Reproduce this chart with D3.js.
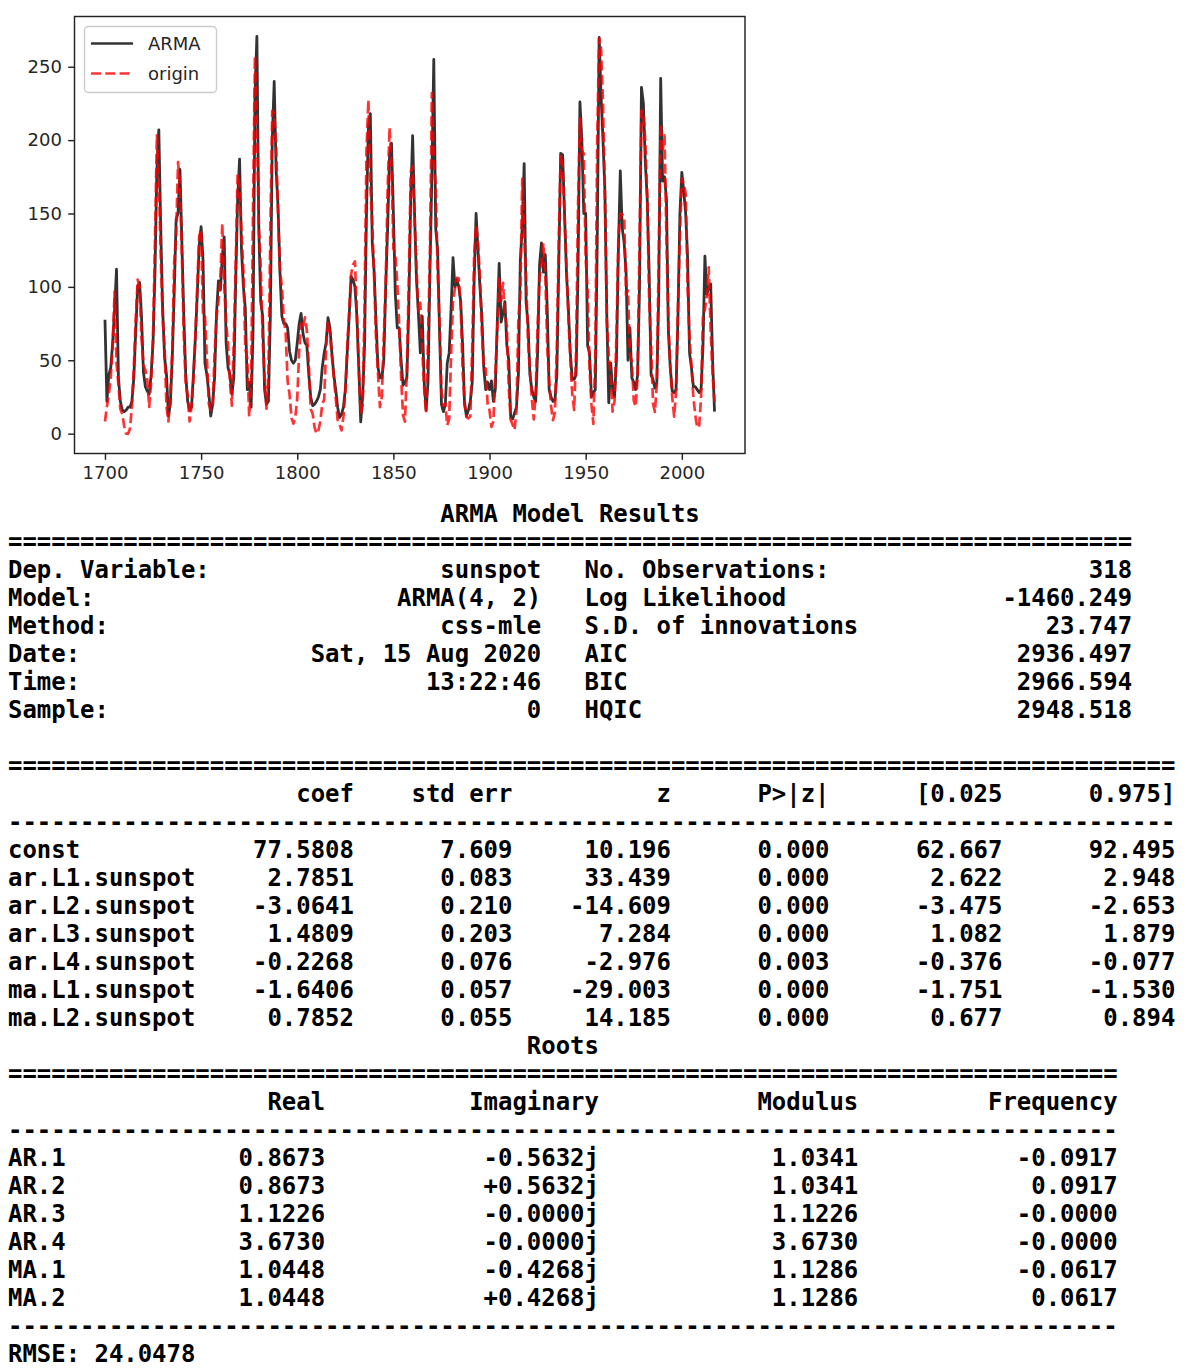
<!DOCTYPE html>
<html>
<head>
<meta charset="utf-8">
<script src="https://cdn.jsdelivr.net/npm/d3@7"></script>
<style>
  body { margin: 0; background: #fff; }
  .tick-label { font-family: "DejaVu Sans", sans-serif; font-size: 18px; fill: #262626; }
  .mono { font-family: "DejaVu Sans Mono", monospace; font-size: 23.95px; font-weight: bold; fill: #000; white-space: pre; }
</style>
</head>
<body>
<div id="chart"></div>
<script>
// yearly sunspot numbers, 1700 .. 2017
const firstYear = 1700;
const origin = [
  8.3, 18.3, 26.7, 38.3, 60.0, 96.7, 48.3, 33.3, 16.7, 13.3,
  5.0, 0.0, 0.0, 3.3, 18.3, 45.0, 78.3, 105.0, 100.0, 65.0,
  46.7, 43.3, 36.7, 18.3, 35.0, 66.7, 130.0, 203.3, 171.7, 121.7,
  78.3, 58.3, 18.3, 8.3, 26.7, 56.7, 116.7, 135.0, 185.0, 168.3,
  121.7, 66.7, 33.3, 26.7, 8.3, 18.3, 36.7, 66.7, 100.0, 134.8,
  139.0, 79.5, 79.7, 51.2, 20.3, 16.0, 17.0, 54.0, 79.3, 90.0,
  104.8, 143.2, 102.0, 75.2, 60.7, 34.8, 19.0, 63.0, 116.3, 176.8,
  168.0, 136.0, 110.8, 58.0, 51.0, 11.7, 33.0, 154.2, 257.3, 209.8,
  141.3, 113.5, 64.2, 38.0, 17.0, 40.2, 138.2, 220.0, 218.2, 196.8,
  149.8, 111.0, 100.0, 78.2, 68.3, 35.5, 26.7, 10.7, 6.8, 11.3,
  24.2, 56.7, 75.0, 71.8, 79.2, 70.3, 46.8, 16.8, 13.5, 4.2,
  0.0, 2.3, 8.3, 20.3, 23.2, 59.0, 76.3, 68.3, 52.9, 38.5,
  24.2, 9.2, 6.3, 2.2, 11.4, 28.2, 59.9, 83.0, 108.5, 115.2,
  117.4, 80.8, 44.3, 13.4, 19.5, 85.8, 192.7, 227.3, 168.7, 143.0,
  105.5, 63.3, 40.3, 18.1, 25.1, 65.8, 102.7, 166.3, 208.3, 182.5,
  126.3, 122.0, 102.7, 74.1, 39.0, 12.7, 8.2, 43.4, 104.4, 178.3,
  182.2, 146.6, 112.1, 83.5, 89.2, 57.8, 30.7, 13.9, 62.8, 123.6,
  232.0, 185.3, 169.2, 110.1, 74.5, 28.3, 18.9, 20.7, 5.7, 10.0,
  53.7, 90.5, 99.0, 106.1, 105.8, 86.3, 42.4, 21.8, 11.2, 10.4,
  11.8, 59.5, 121.7, 142.0, 130.0, 106.6, 69.4, 43.8, 44.4, 20.2,
  15.7, 4.6, 8.5, 40.8, 70.1, 105.5, 90.1, 102.8, 80.9, 73.2,
  30.9, 9.5, 6.0, 2.4, 16.1, 79.0, 95.0, 173.6, 134.6, 105.7,
  62.7, 43.5, 23.7, 9.7, 27.9, 74.0, 106.5, 114.7, 129.7, 108.2,
  59.4, 35.1, 18.6, 9.2, 14.6, 60.2, 132.8, 190.6, 182.6, 148.0,
  113.0, 79.2, 50.8, 27.1, 16.1, 55.3, 154.3, 214.7, 193.0, 190.7,
  118.9, 98.3, 45.0, 20.1, 6.6, 54.2, 200.7, 269.3, 261.7, 225.1,
  159.0, 76.4, 53.4, 39.9, 15.0, 22.0, 66.8, 132.9, 150.0, 149.4,
  148.0, 94.4, 97.6, 54.1, 49.2, 22.5, 18.4, 39.3, 131.0, 220.1,
  218.9, 198.9, 162.4, 91.0, 60.5, 20.6, 14.8, 33.9, 123.0, 211.1,
  191.8, 203.3, 133.0, 76.1, 44.9, 25.1, 11.6, 28.9, 88.3, 136.3,
  173.9, 170.4, 163.6, 99.3, 65.3, 45.8, 24.7, 12.6, 4.2, 4.8,
  24.9, 80.8, 84.5, 94.0, 113.3, 69.8, 39.8, 21.7
];
// in-sample ARMA(4,2) predictions
const arma = [
  77.6, 22, 40, 45, 62, 85, 112, 38, 22, 16,
  15, 16, 18, 18, 22, 38, 70, 100, 103, 80,
  42, 32, 29, 27, 40, 62, 110, 180, 207, 140,
  85, 52, 40, 12, 20, 52, 95, 146, 150, 180,
  130, 80, 40, 22, 16, 18, 40, 65, 95, 128,
  141, 118, 48, 40, 28, 12, 20, 38, 82, 104,
  98, 120, 134, 62, 45, 40, 27, 38, 105, 160,
  187, 125, 100, 85, 30, 35, 18, 70, 230, 270.7,
  140, 90, 80, 30, 20, 22, 80, 200, 240, 180,
  155, 110, 80, 75, 75, 72, 56, 50, 48, 50,
  62, 75, 82, 68, 62, 60, 40, 25, 19, 20,
  22, 25, 30, 45, 55, 62, 79, 72, 55, 40,
  30, 18, 11, 13, 18, 30, 55, 80, 107, 105,
  100, 80, 45, 8, 25, 60, 150, 210, 218, 130,
  110, 75, 45, 38, 38, 50, 100, 140, 190, 198,
  150, 95, 72, 72, 50, 33, 35, 38, 85, 160,
  203, 150, 105, 82, 55, 80, 35, 16, 35, 110,
  175, 255, 140, 125, 70, 20, 15, 20, 48, 55,
  85, 120, 100, 105, 100, 90, 60, 20, 12, 16,
  22, 35, 105, 150, 125, 100, 80, 45, 30, 35,
  30, 36, 22, 30, 75, 116, 76, 82, 90, 60,
  50, 11, 10, 14, 18, 40, 118, 140, 184, 90,
  75, 40, 30, 25, 22, 55, 115, 130, 110, 122,
  85, 30, 25, 22, 23, 40, 115, 191, 190, 150,
  110, 85, 55, 37, 37, 40, 110, 226, 200, 150,
  150, 60, 55, 25, 28, 30, 130, 270, 230, 200,
  165, 80, 21, 48, 30, 25, 50, 125, 179, 140,
  130, 110, 50, 72, 38, 35, 30, 40, 100, 236,
  225, 185, 160, 110, 40, 37, 31, 35, 95, 242,
  172, 175, 160, 70, 45, 29, 28, 30, 80, 150,
  178, 165, 150, 120, 55, 45, 32, 32, 30, 28,
  30, 60, 121, 95, 100, 102, 50, 15
];
const xTicks = [1700, 1750, 1800, 1850, 1900, 1950, 2000];
const yTicks = [0, 50, 100, 150, 200, 250];
const legendNames = ["ARMA", "origin"];

// summary text
const modelTitle = "ARMA Model Results";
const topRows = [
  ["Dep. Variable:", "sunspot", "No. Observations:", "318"],
  ["Model:", "ARMA(4, 2)", "Log Likelihood", "-1460.249"],
  ["Method:", "css-mle", "S.D. of innovations", "23.747"],
  ["Date:", "Sat, 15 Aug 2020", "AIC", "2936.497"],
  ["Time:", "13:22:46", "BIC", "2966.594"],
  ["Sample:", "0", "HQIC", "2948.518"]
];
const paramHeader = ["", "coef", "std err", "z", "P>|z|", "[0.025", "0.975]"];
const paramRows = [
  ["const", "77.5808", "7.609", "10.196", "0.000", "62.667", "92.495"],
  ["ar.L1.sunspot", "2.7851", "0.083", "33.439", "0.000", "2.622", "2.948"],
  ["ar.L2.sunspot", "-3.0641", "0.210", "-14.609", "0.000", "-3.475", "-2.653"],
  ["ar.L3.sunspot", "1.4809", "0.203", "7.284", "0.000", "1.082", "1.879"],
  ["ar.L4.sunspot", "-0.2268", "0.076", "-2.976", "0.003", "-0.376", "-0.077"],
  ["ma.L1.sunspot", "-1.6406", "0.057", "-29.003", "0.000", "-1.751", "-1.530"],
  ["ma.L2.sunspot", "0.7852", "0.055", "14.185", "0.000", "0.677", "0.894"]
];
const rootsTitle = "Roots";
const rootHeader = ["", "Real", "Imaginary", "Modulus", "Frequency"];
const rootRows = [
  ["AR.1", "0.8673", "-0.5632j", "1.0341", "-0.0917"],
  ["AR.2", "0.8673", "+0.5632j", "1.0341", "0.0917"],
  ["AR.3", "1.1226", "-0.0000j", "1.1226", "-0.0000"],
  ["AR.4", "3.6730", "-0.0000j", "3.6730", "-0.0000"],
  ["MA.1", "1.0448", "-0.4268j", "1.1286", "-0.0617"],
  ["MA.2", "1.0448", "+0.4268j", "1.1286", "0.0617"]
];
const rmse = "24.0478";

const W = 1198, H = 1370;
const box = { left: 74.5, right: 745, top: 16.5, bottom: 453.5 };

const svg = d3.select("#chart").append("svg")
  .attr("width", W)
  .attr("height", H)
  .style("display", "block");

svg.append("rect").attr("width", W).attr("height", H).attr("fill", "#fff");

const data = origin.map((v, i) => ({ year: firstYear + i, origin: v, arma: arma[i] }));

// matplotlib style 5% margins
const xExt = d3.extent(data, d => d.year);
const xPad = (xExt[1] - xExt[0]) * 0.05;
const x = d3.scaleLinear()
  .domain([xExt[0] - xPad, xExt[1] + xPad])
  .range([box.left, box.right]);

const yMin = d3.min([d3.min(origin), d3.min(arma)]);
const yMax = d3.max([d3.max(origin), d3.max(arma)]);
const yPad = (yMax - yMin) * 0.05;
const y = d3.scaleLinear()
  .domain([yMin - yPad, yMax + yPad])
  .range([box.bottom, box.top]);

const plot = svg.append("g");

const armaLine = d3.line().x(d => x(d.year)).y(d => y(d.arma));
const originLine = d3.line().x(d => x(d.year)).y(d => y(d.origin));

plot.append("path")
  .datum(data)
  .attr("fill", "none")
  .attr("stroke", "#000")
  .attr("stroke-opacity", 0.8)
  .attr("stroke-width", 2.8)
  .attr("stroke-linejoin", "round")
  .attr("d", armaLine);

plot.append("path")
  .datum(data)
  .attr("fill", "none")
  .attr("stroke", "#ff0000")
  .attr("stroke-opacity", 0.8)
  .attr("stroke-width", 2.7)
  .attr("stroke-dasharray", "10,4.3")
  .attr("stroke-linejoin", "round")
  .attr("d", originLine);

// axes
const xAxis = svg.append("g")
  .attr("transform", `translate(0,${box.bottom})`)
  .call(d3.axisBottom(x).tickValues(xTicks).tickFormat(d3.format("d")).tickSize(6.3).tickPadding(6.3));
const yAxis = svg.append("g")
  .attr("transform", `translate(${box.left},0)`)
  .call(d3.axisLeft(y).tickValues(yTicks).tickFormat(d3.format("d")).tickSize(6.3).tickPadding(6.3));

[xAxis, yAxis].forEach(g => {
  g.select(".domain").remove();
  g.selectAll(".tick line").attr("stroke", "#222").attr("stroke-width", 1.45);
  g.selectAll(".tick text").attr("class", "tick-label").attr("fill", null);
});

svg.append("rect")
  .attr("x", box.left)
  .attr("y", box.top)
  .attr("width", box.right - box.left)
  .attr("height", box.bottom - box.top)
  .attr("fill", "none")
  .attr("stroke", "#222")
  .attr("stroke-width", 1.45);

// legend
const legend = svg.append("g");
legend.append("rect")
  .attr("x", 84.5).attr("y", 26.5)
  .attr("width", 132).attr("height", 66)
  .attr("rx", 4)
  .attr("fill", "#fff").attr("fill-opacity", 0.8)
  .attr("stroke", "#cccccc").attr("stroke-width", 1.4);

const legendStyles = [
  { color: "#000", dash: null },
  { color: "#ff0000", dash: "10,4.3" }
];
legendNames.forEach((name, i) => {
  const ly = 43.5 + i * 30;
  legend.append("line")
    .attr("x1", 91).attr("x2", 133)
    .attr("y1", ly).attr("y2", ly)
    .attr("stroke", legendStyles[i].color)
    .attr("stroke-opacity", 0.8)
    .attr("stroke-width", 2.7)
    .attr("stroke-dasharray", legendStyles[i].dash);
  legend.append("text")
    .attr("class", "tick-label")
    .attr("x", 148)
    .attr("y", ly)
    .attr("dy", "0.35em")
    .text(name);
});

// summary tables as monospace text lines
const center = (s, w) => " ".repeat(Math.floor((w - s.length) / 2)) + s;
const topLine = r => r[0] + r[1].padStart(37 - r[0].length) + "   " + r[2] + r[3].padStart(38 - r[2].length);
const paramLine = r => r[0].padEnd(15) + r[1].padStart(9) + r[2].padStart(11) + r[3].padStart(11) +
  r[4].padStart(11) + r[5].padStart(12) + r[6].padStart(12);
const rootLine = r => r[0].padEnd(10) + r[1].padStart(12) + r[2].padStart(19) + r[3].padStart(18) + r[4].padStart(18);

const lines = [
  center(modelTitle, 78),
  "=".repeat(78),
  ...topRows.map(topLine),
  "",
  "=".repeat(81),
  paramLine(paramHeader),
  "-".repeat(81),
  ...paramRows.map(paramLine),
  center(rootsTitle, 77),
  "=".repeat(77),
  rootLine(rootHeader),
  "-".repeat(77),
  ...rootRows.map(rootLine),
  "-".repeat(77),
  "RMSE: " + rmse
];

svg.append("g")
  .selectAll("text")
  .data(lines)
  .join("text")
  .attr("class", "mono")
  .attr("xml:space", "preserve")
  .attr("x", 8)
  .attr("y", (d, i) => 522 + i * 28)
  .text(d => d);
</script>
</body>
</html>
